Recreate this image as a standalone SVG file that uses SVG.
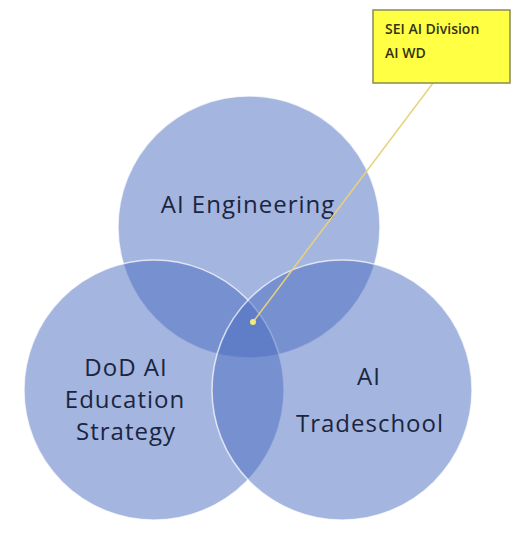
<svg xmlns="http://www.w3.org/2000/svg" width="518" height="536" viewBox="0 0 518 536">
<style>
.c{fill:#4a6cbf;fill-opacity:0.5;stroke:#ffffff;stroke-width:1.5;stroke-opacity:0.7}
.t{font-family:"Open Sans","Liberation Sans",sans-serif;font-size:24px;fill:#1a2540;text-anchor:middle;letter-spacing:1px;font-weight:500}
.n{font-family:"Open Sans","Liberation Sans",sans-serif;font-size:14px;fill:#333311;font-weight:600}
</style>
<rect width="518" height="536" fill="#ffffff"/>
<g id="engineering">
<circle class="c" cx="249" cy="227" r="131"/>
<text class="t" x="248" y="213">AI Engineering</text>
</g>
<g id="education">
<circle class="c" cx="154" cy="390" r="130"/>
<text class="t" x="126" y="376">DoD AI</text>
<text class="t" x="125" y="408">Education</text>
<text class="t" x="126" y="440">Strategy</text>
</g>
<g id="tradeschool">
<circle class="c" cx="342" cy="390" r="130"/>
<text class="t" x="369" y="385">AI</text>
<text class="t" x="370" y="432">Tradeschool</text>
</g>
<g id="connectors">
<line x1="433" y1="83" x2="253" y2="322" stroke="#e8d27a" stroke-width="1.5"/>
<circle cx="253" cy="322" r="3" fill="#f2ea7a"/>
</g>
<g id="note">
<rect x="373" y="10" width="137" height="73" fill="#ffff44" stroke="#8a8a55" stroke-width="1.5"/>
<text class="n" x="385" y="34">SEI AI Division</text>
<text class="n" x="385" y="58">AI WD</text>
</g>
</svg>
